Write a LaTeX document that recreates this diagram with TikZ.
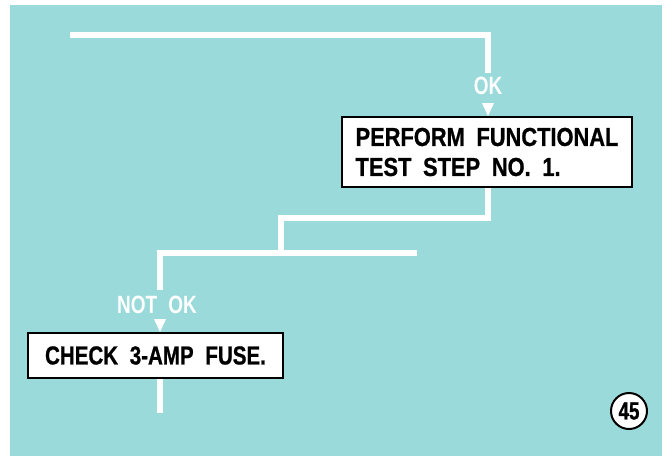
\documentclass[tikz,border=0pt]{standalone}
\usepackage{fontspec}
\setmainfont{Liberation Sans}
\newfontfamily\boxfontA[FakeStretch=0.84,BoldFeatures={FakeBold=0.8}]{Liberation Sans}
\newfontfamily\boxfontB[FakeStretch=0.79,BoldFeatures={FakeBold=0.8}]{Liberation Sans}
\newfontfamily\lblfont[FakeStretch=0.76]{Liberation Sans}
\newfontfamily\numfont[FakeStretch=0.75,BoldFeatures={FakeBold=0.8}]{Liberation Sans}
\definecolor{bg}{RGB}{155,218,218}
\newcommand\wsp{\hspace{0.45em}}
\begin{document}
\begin{tikzpicture}[x=1pt,y=-1pt,
  flow/.style={white,line width=6pt,line join=miter},
  stepbox/.style={draw=black,line width=2pt,fill=white,align=left,inner sep=0pt},
  lbl/.style={text=white,inner sep=0pt,font=\lblfont\bfseries\fontsize{25}{26}\selectfont},
  tipmark/.style={fill=white}]
\useasboundingbox (0,0) rectangle (672,456);
\fill[white] (0,0) rectangle (672,456);
\fill[bg] (10,5) rectangle (662,456);

\node[stepbox,minimum width=290pt,minimum height=70pt,
  font=\boxfontA\bfseries\fontsize{26}{30}\selectfont] (b1) at (487,152)
  {PERFORM\wsp FUNCTIONAL\\TEST\wsp STEP\wsp NO.\wsp 1.};
\node[stepbox,minimum width=255pt,minimum height=45pt,
  font=\boxfontB\bfseries\fontsize{26}{30}\selectfont] (b2) at (155.5,355.5)
  {CHECK\wsp 3-AMP\wsp FUSE.};
\node[lbl] (ok) at (488,86) {OK};
\node[lbl] (notok) at (157,305) {NOT\hspace{0.45em}OK};
\node[draw=black,line width=2pt,fill=white,circle,minimum size=36pt,inner sep=0pt,
  font=\numfont\bfseries\fontsize{25}{25}\selectfont] (n45) at (629,411) {45};

\coordinate (t0) at (70,35);
\coordinate (t1) at (488,73);
\coordinate (a1) at (488,103);
\coordinate (m1) at (281,218);
\coordinate (m2) at (281,253);
\coordinate (h0) at (417,253);
\coordinate (h1) at (160,290);
\coordinate (a2) at (160,319);
\coordinate (e2) at (160,413);

\draw[flow] (t0) -| (t1);
\fill[tipmark] (a1) ++(-6,0) -- ++(12,0) -- (b1.north -| a1) -- cycle;
\draw[flow] (b1.south -| t1) |- (m1) -- (m2);
\draw[flow] (h0) -| (h1);
\fill[tipmark] (a2) ++(-6,0) -- ++(12,0) -- (b2.north -| a2) -- cycle;
\draw[flow] (b2.south -| a2) -- (e2);
\end{tikzpicture}
\end{document}
